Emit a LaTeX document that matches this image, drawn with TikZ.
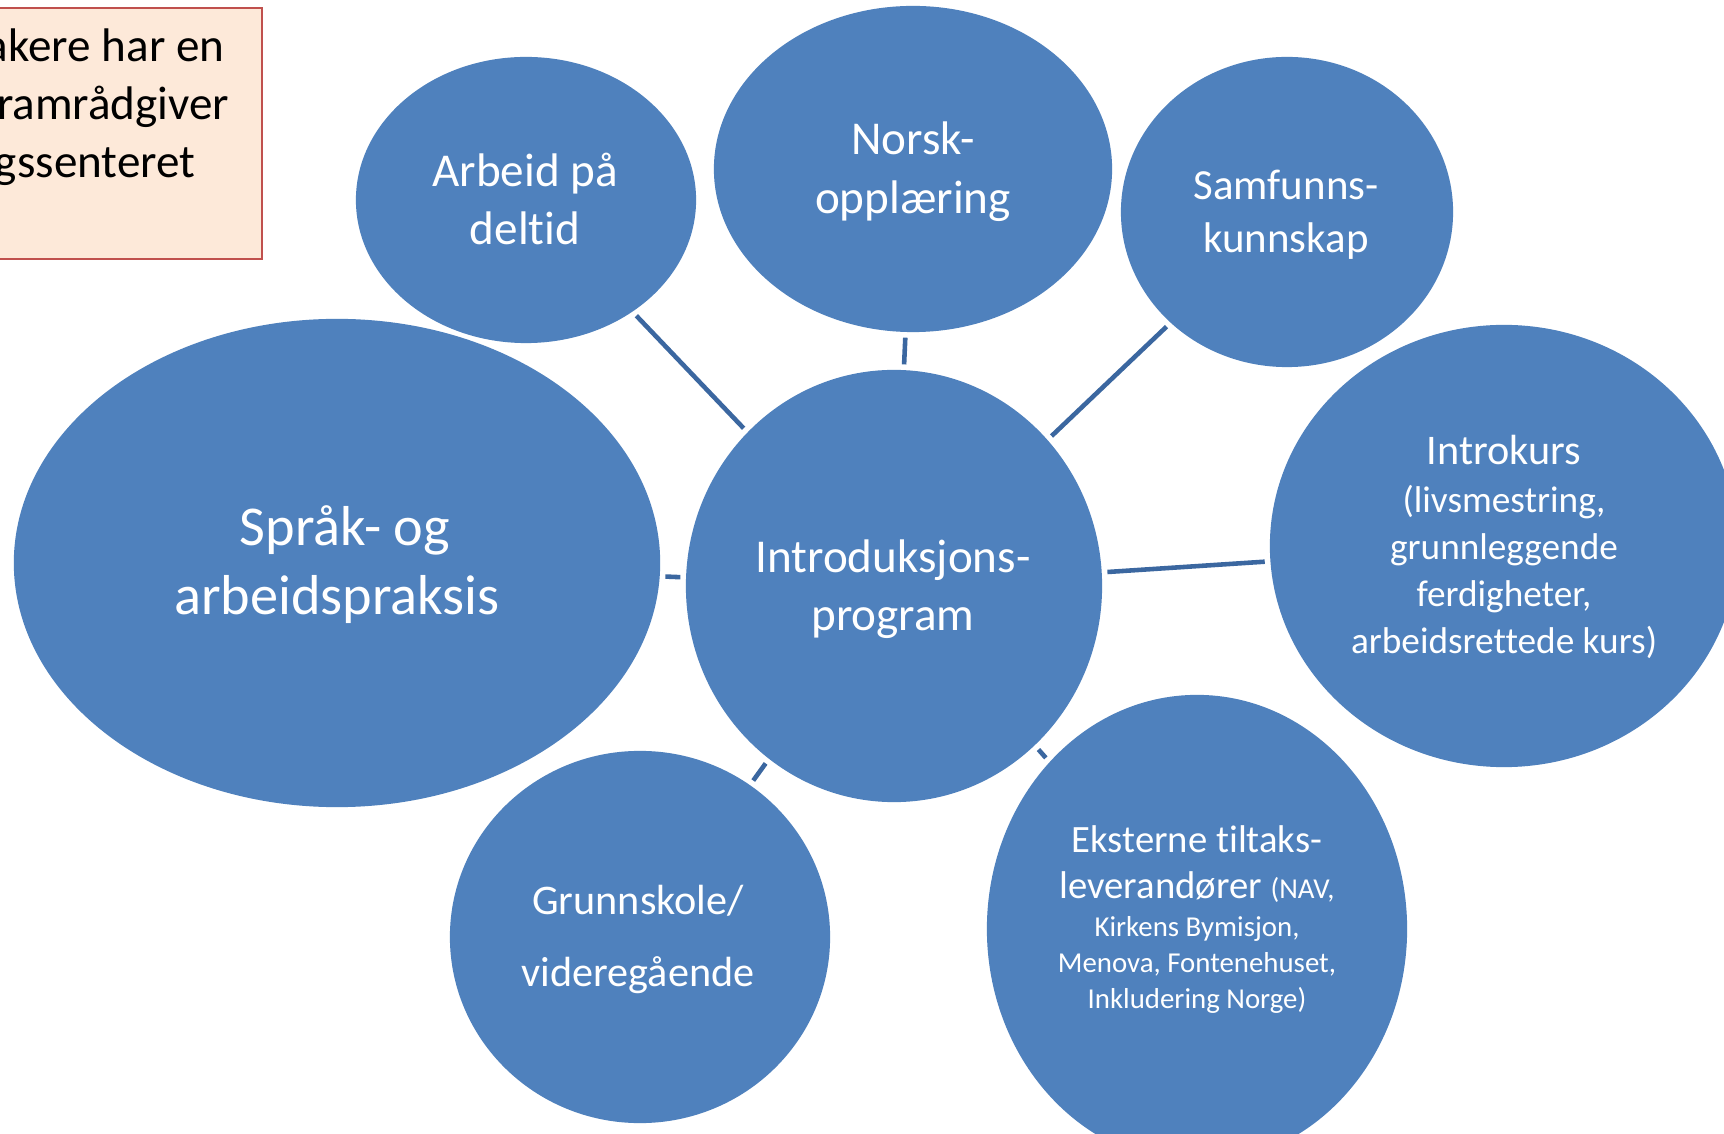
\documentclass[tikz,border=0pt]{standalone}
\usepackage{fontspec}
\setmainfont{Carlito}[Ligatures=NoCommon]
\usetikzlibrary{shapes.geometric}
\definecolor{bubblecol}{HTML}{4F81BD}
\definecolor{linkcol}{HTML}{3B67A0}
\definecolor{boxfill}{HTML}{FDE9D9}
\definecolor{boxline}{HTML}{C0504D}
\begin{document}
\begin{tikzpicture}[x=0.01cm,y=-0.01cm,
  bubble/.style={ellipse, fill=bubblecol, draw=none, inner sep=0pt},
  lbl/.style={text=white, anchor=base, inner sep=0pt},
  notetext/.style={text=black, anchor=base east, inner sep=0pt, font=\fontsize{13.4}{16}\selectfont},
  link/.style={draw=linkcol, line width=1.3pt, shorten <=0.5mm, shorten >=0.5mm}]
\useasboundingbox (0,0) rectangle (1724,1134);
\clip (0,0) rectangle (1724,1134);
\fill[white] (0,0) rectangle (1724,1134);

% note box
\node[draw=boxline, fill=boxfill, line width=0.5pt, anchor=north east,
      minimum width=3.00cm, minimum height=2.51cm, inner sep=0pt] (note) at (263,7) {};
\node[notetext] (n1) at (225,62) {akere har en};
\node[notetext] (n2) at (230,120) {ramrådgiver};
\node[notetext] (n3) at (196,178) {gssenteret};

% bubbles
\node[bubble, minimum width=6.46cm, minimum height=4.88cm] (sprak) at (337,563) {};
\node[bubble, minimum width=3.40cm, minimum height=2.86cm] (arbeid) at (526,200) {};
\node[bubble, minimum width=3.98cm, minimum height=3.26cm] (norsk) at (913,169) {};
\node[bubble, minimum width=3.32cm, minimum height=3.10cm] (samf) at (1287,212) {};
\node[bubble, minimum width=4.16cm, minimum height=4.32cm] (intro) at (894,586) {};
\node[bubble, minimum width=4.68cm, minimum height=4.42cm] (kurs) at (1504,546) {};
\node[bubble, minimum width=3.80cm, minimum height=3.72cm] (grunn) at (640,937) {};
\node[bubble, minimum width=4.20cm, minimum height=4.68cm] (ekst) at (1197,929) {};

% connectors
\draw[link] (arbeid) -- (intro);
\draw[link] (norsk) -- (intro);
\draw[link] (samf) -- (intro);
\draw[link] (kurs) -- (intro);
\draw[link] (ekst) -- (intro);
\draw[link] (grunn) -- (intro);
\draw[link] (sprak) -- (intro);

% labels
\begin{scope}[every node/.append style={font=\fontsize{16}{19}\selectfont}]
\node[lbl] (sprakA) at (345,546) {Språk- og};
\node[lbl] (sprakB) at (337,615) {arbeidspraksis};
\end{scope}
\begin{scope}[every node/.append style={font=\fontsize{13.4}{16}\selectfont}]
\node[lbl] (introA) at (893,573) {Introduksjons-};
\node[lbl] (introB) at (893,631) {program};
\node[lbl] (arbeidA) at (525,187) {Arbeid på};
\node[lbl] (arbeidB) at (525,245) {deltid};
\node[lbl] (norskA) at (913,155) {Norsk-};
\node[lbl] (norskB) at (913,214) {opplæring};
\end{scope}
\begin{scope}[every node/.append style={font=\fontsize{12.2}{15}\selectfont}]
\node[lbl] (samfA) at (1286,200) {Samfunns-};
\node[lbl] (samfB) at (1286,253) {kunnskap};
\end{scope}
\begin{scope}[every node/.append style={font=\fontsize{12}{15}\selectfont}]
\node[lbl] (grunnA) at (638,914) {Grunnskole/};
\node[lbl] (grunnB) at (638,986) {videregående};
\node[lbl] (kursA) at (1504,465) {Introkurs};
\end{scope}
\begin{scope}[every node/.append style={font=\fontsize{10.6}{13}\selectfont}]
\node[lbl] (kursB) at (1504,513) {(livsmestring,};
\node[lbl] (kursC) at (1504,560) {grunnleggende};
\node[lbl] (kursD) at (1504,607) {ferdigheter,};
\node[lbl] (kursE) at (1504,654) {arbeidsrettede kurs)};
\end{scope}
\node[lbl, font=\fontsize{11}{13}\selectfont] (ekstA) at (1197,852) {Eksterne tiltaks-};
\node[lbl, font=\fontsize{11}{13}\selectfont] (ekstB) at (1197,898) {leverandører {\fontsize{8.2}{10}\selectfont (NAV,}};
\begin{scope}[every node/.append style={font=\fontsize{8.2}{10}\selectfont}]
\node[lbl] (ekstC) at (1197,936) {Kirkens Bymisjon,};
\node[lbl] (ekstD) at (1197,972) {Menova, Fontenehuset,};
\node[lbl] (ekstE) at (1197,1008) {Inkludering Norge)};
\end{scope}
\end{tikzpicture}
\end{document}
